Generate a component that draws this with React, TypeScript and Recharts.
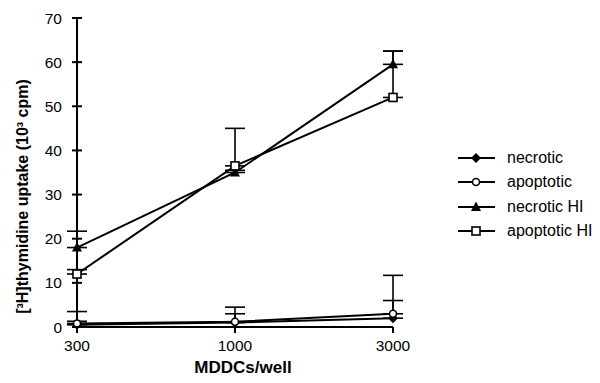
import React from 'react';
import { LineChart, Line, XAxis, YAxis, ErrorBar, Legend, Label } from 'recharts';

const categories = ['300', '1000', '3000'];
const necrotic = [0.5, 1, 2];
const necroticErr = [3, 2, 4];
const apoptotic = [0.8, 1.2, 3];
const apoptoticErr = [0.5, 3.3, 8.7];
const necroticHI = [18, 35, 59.5];
const necroticHIErr = [3.7, 0.5, 3];
const apoptoticHI = [12, 36.5, 52];
const apoptoticHIErr = [1, 8.5, 10.5];
const yTicks = [0, 10, 20, 30, 40, 50, 60, 70];

const data = categories.map((c, i) => ({
  name: c,
  necrotic: necrotic[i],
  necroticErr: [0, necroticErr[i]],
  apoptotic: apoptotic[i],
  apoptoticErr: [0, apoptoticErr[i]],
  necroticHI: necroticHI[i],
  necroticHIErr: [0, necroticHIErr[i]],
  apoptoticHI: apoptoticHI[i],
  apoptoticHIErr: [0, apoptoticHIErr[i]],
}));

const FONT = '"Liberation Sans", Arial, Helvetica, sans-serif';

type Shape = 'diamond' | 'circle' | 'triangle' | 'square';

const Marker = ({ shape, cx, cy }: { shape: Shape; cx: number; cy: number }) => {
  if (shape === 'diamond') {
    return <polygon points={`${cx},${cy - 5} ${cx + 5},${cy} ${cx},${cy + 5} ${cx - 5},${cy}`} fill="#000" />;
  }
  if (shape === 'circle') {
    return <circle cx={cx} cy={cy} r={3.5} fill="#fff" stroke="#000" strokeWidth={1.6} />;
  }
  if (shape === 'triangle') {
    return <polygon points={`${cx},${cy - 5.5} ${cx + 5},${cy + 4} ${cx - 5},${cy + 4}`} fill="#000" />;
  }
  return <rect x={cx - 4} y={cy - 4} width={8} height={8} fill="#fff" stroke="#000" strokeWidth={1.6} />;
};

const dotFor = (shape: Shape) => (props: any) => (
  <Marker key={`${shape}-${props.index}`} shape={shape} cx={props.cx} cy={props.cy} />
);

const series: { key: string; err: string; name: string; shape: Shape }[] = [
  { key: 'necrotic', err: 'necroticErr', name: 'necrotic', shape: 'diamond' },
  { key: 'apoptotic', err: 'apoptoticErr', name: 'apoptotic', shape: 'circle' },
  { key: 'necroticHI', err: 'necroticHIErr', name: 'necrotic HI', shape: 'triangle' },
  { key: 'apoptoticHI', err: 'apoptoticHIErr', name: 'apoptotic HI', shape: 'square' },
];

// y ticks cross the axis line, so draw them by hand
const YTick = (props: any) => {
  const { x, y, payload } = props;
  const axisX = x + 5 + 10;
  return (
    <g>
      <line x1={axisX - 5} x2={axisX + 5} y1={y} y2={y} stroke="#000" strokeWidth={2} />
      <text x={x} y={y + 5.5} textAnchor="end" fontFamily={FONT} fontSize={15.5} fill="#000">
        {payload.value}
      </text>
    </g>
  );
};

const XTick = (props: any) => {
  const { x, y, payload } = props;
  const axisY = y - 6 - 4;
  return (
    <g>
      <line x1={x} x2={x} y1={axisY} y2={axisY + 6} stroke="#000" strokeWidth={2} />
      <text x={x} y={axisY + 24} textAnchor="middle" fontFamily={FONT} fontSize={15.5} fill="#000">
        {payload.value}
      </text>
    </g>
  );
};

const LegendContent = () => (
  <div style={{ fontFamily: FONT, fontSize: 16, color: '#000', whiteSpace: 'nowrap' }}>
    {series.map((s) => (
      <div key={s.key} style={{ display: 'flex', alignItems: 'center', height: 24.3 }}>
        <svg width={40} height={14} style={{ marginRight: 9, flexShrink: 0 }}>
          <line x1={0} x2={37} y1={7} y2={7} stroke="#000" strokeWidth={2} />
          <Marker shape={s.shape} cx={18} cy={7} />
        </svg>
        <span>{s.name}</span>
      </div>
    ))}
  </div>
);

export default function App() {
  return (
    <div style={{ width: 592, height: 375 }}>
      <LineChart width={592} height={375} data={data} margin={{ top: 10, right: 207, left: 0, bottom: 0 }}>
        <XAxis
          dataKey="name"
          height={56}
          tick={<XTick />}
          tickSize={6}
          tickMargin={4}
          tickLine={false}
          axisLine={{ stroke: '#000', strokeWidth: 2 }}
          interval={0}
        >
          <Label
            content={(p: any) => {
              const vb = p.viewBox;
              return (
                <text x={vb.x + vb.width / 2 + 8} y={vb.y + 46} textAnchor="middle" fontFamily={FONT} fontSize={17} fontWeight="bold" fill="#000">
                  MDDCs/well
                </text>
              );
            }}
          />
        </XAxis>
        <YAxis
          width={69}
          domain={[0, 70]}
          ticks={yTicks}
          type="number"
          tick={<YTick />}
          tickSize={5}
          tickMargin={10}
          tickLine={false}
          axisLine={{ stroke: '#000', strokeWidth: 2 }}
          interval={0}
        >
          <Label
            content={(p: any) => {
              const vb = p.viewBox;
              const cx = 14;
              const cy = vb.y + vb.height / 2 + 24;
              return (
                <text x={cx} y={cy} transform={`rotate(-90 ${cx} ${cy})`} textAnchor="middle" dominantBaseline="central" fontFamily={FONT} fontSize={16} fontWeight="bold" fill="#000">
                  [³H]thymidine uptake (10³ cpm)
                </text>
              );
            }}
          />
        </YAxis>
        <Legend
          layout="horizontal"
          verticalAlign="middle"
          align="center"
          content={<LegendContent />}
          wrapperStyle={{ left: 450, top: 138, width: 140 }}
        />
        {series.map((s) => (
          <Line
            key={s.key}
            dataKey={s.key}
            name={s.name}
            type="linear"
            stroke="#000"
            strokeWidth={2}
            dot={dotFor(s.shape)}
            activeDot={false}
            isAnimationActive={false}
          >
            <ErrorBar dataKey={s.err} direction="y" width={10} stroke="#000" strokeWidth={1.6} isAnimationActive={false} />
          </Line>
        ))}
      </LineChart>
    </div>
  );
}
